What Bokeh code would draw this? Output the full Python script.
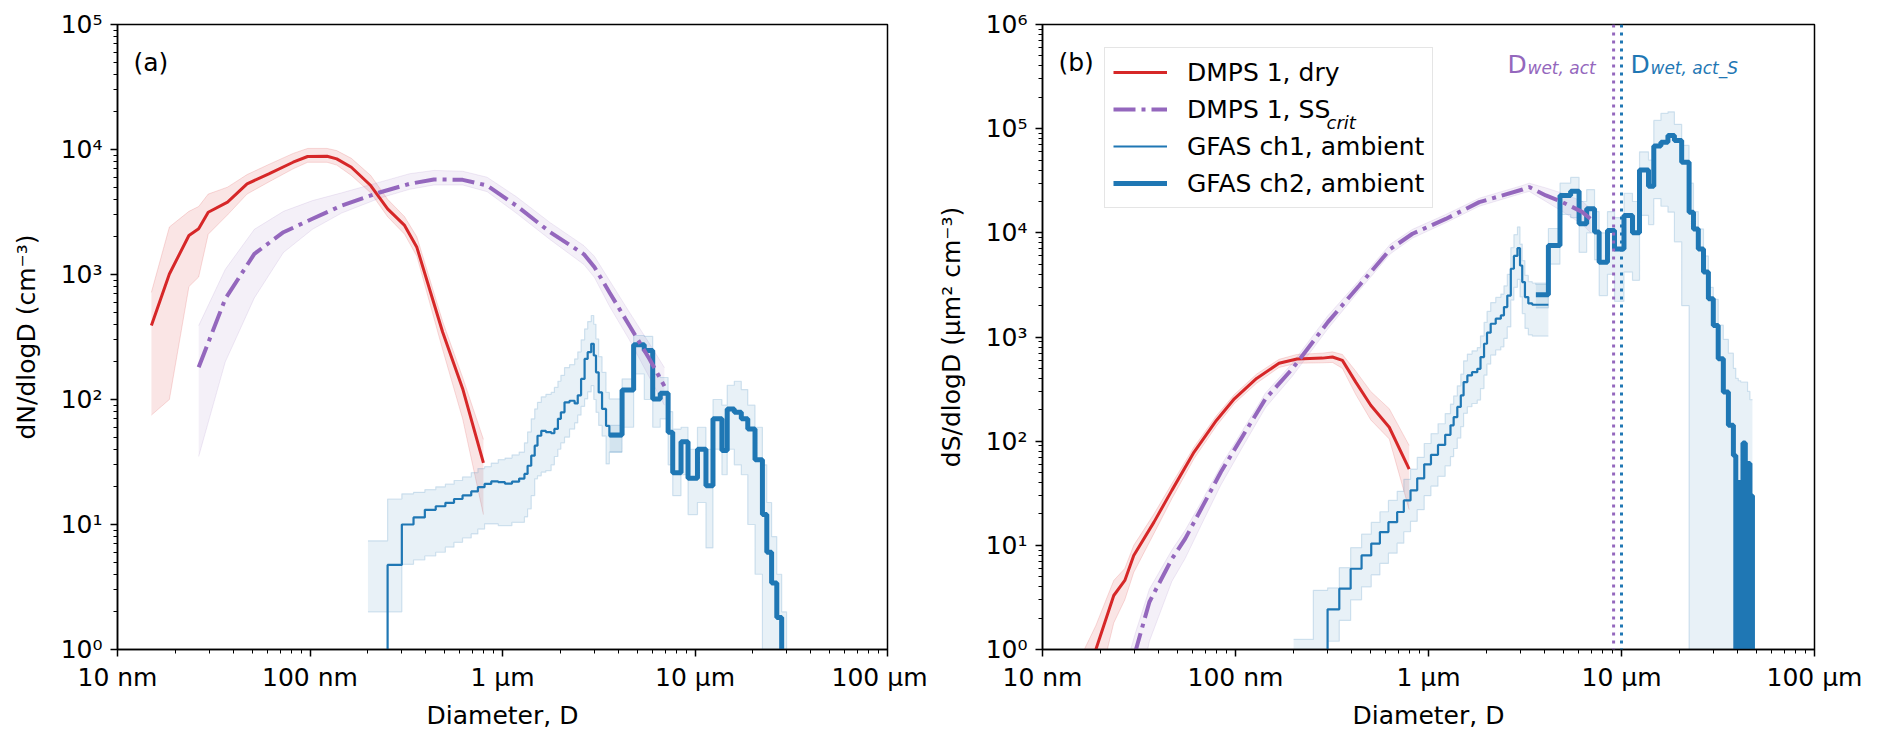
from bokeh.plotting import figure
from bokeh.models import Range1d, FixedTicker, Label, Legend, LegendItem, Span
from bokeh.layouts import row
from bokeh.embed import file_html
from bokeh.resources import INLINE

FONT = "DejaVu Sans"
RED = "#d62728"
PURPLE = "#9467bd"
BLUE = "#1f77b4"

# ---------------- data (diameters: nm for DMPS, um for GFAS) ----------------
# Panel (a): number size distribution dN/dlogD
dry_a_d = [15, 18.6, 23.5, 26.4, 29.6, 37.3, 47.1, 61.1, 81.7, 97.2, 122.7, 137.7, 164, 206.7, 253, 310, 359, 489, 621, 796]
dry_a = [391, 1010, 2050, 2320, 3150, 3790, 5310, 6380, 7910, 8790, 8830, 8410, 7210, 5150, 3350, 2470, 1650, 345, 122, 31.1]
dry_a_lo = [75, 100, 800, 955, 2100, 3000, 4400, 5500, 7000, 7900, 7900, 7500, 6200, 4500, 2900, 2100, 1400, 250, 70, 12]
dry_a_hi = [720, 2400, 3200, 3500, 4400, 5000, 6300, 7600, 9300, 10200, 10200, 9800, 8500, 6200, 4000, 2900, 2000, 420, 150, 48]

ss_a_d = [26.4, 36.3, 51.4, 72.8, 103, 146, 232, 329, 440, 621, 832, 1178, 1769, 2650, 3000, 3590, 4560, 5800, 6935]
ss_a = [181, 638, 1463, 2180, 2790, 3560, 4550, 5310, 5760, 5720, 5150, 3560, 2180, 1450, 1150, 722, 391, 211, 128]
ss_a_lo = [35, 200, 650, 1500, 2300, 3100, 4100, 4800, 5200, 5200, 4600, 3100, 1900, 1200, 950, 560, 300, 150, 90]
ss_a_hi = [390, 1100, 2300, 3200, 3900, 4500, 5500, 6400, 6800, 6700, 6000, 4200, 2600, 1700, 1400, 900, 500, 280, 180]

ch1_edges = [0.2, 0.253, 0.300, 0.345, 0.395, 0.450, 0.505, 0.560, 0.620, 0.688, 0.745, 0.807, 0.874, 0.95,
             1.03, 1.12, 1.22, 1.30, 1.35, 1.41, 1.47, 1.52, 1.59, 1.68, 1.79, 1.86, 1.94, 2.01, 2.10, 2.23,
             2.37, 2.46, 2.56, 2.67, 2.77, 2.89, 2.98, 3.06, 3.16, 3.29, 3.45, 3.59, 4.18]
ch1_a = [0.001, 4.75, 10.0, 11.4, 13.1, 14.0, 14.9, 16.0, 17.1, 18.4, 19.9, 21.1, 22.1, 21.8, 21.2, 22.0, 23.3,
         25.4, 29.5, 35.5, 42.7, 51.3, 56.2, 54.9, 53.7, 58.2, 70, 79, 95, 97.7, 93, 108, 146, 211, 239, 279,
         225, 165, 114, 84, 61.6, 51]
ch1_a_hi = [7.4, 16, 17.6, 18.1, 19, 20, 21, 22.5, 24, 26, 28, 29, 31, 33, 34, 36, 38, 45, 55, 70, 84, 95, 105,
            110, 114, 125, 140, 156, 180, 190, 211, 240, 300, 367, 420, 470, 400, 305, 220, 165, 114, 101]
ch1_a_lo = [2.0, 2.0, 4.8, 5.2, 5.6, 6.0, 6.6, 7.2, 7.8, 8.4, 9.2, 10.1, 10.1, 9.8, 9.8, 10.4, 10.4, 11.5, 13.3,
            17, 23.2, 24.5, 26.2, 27, 30, 35, 40, 45, 50, 58, 65, 75, 88, 101, 115, 129, 100, 79, 62, 51, 30.5, 37.9]

ch2_edges = [3.6, 4.18, 4.8, 5.45, 6.03, 6.6, 7.25, 7.66, 8.46, 9.2, 10.3, 11.4, 12.4, 13.8, 14.7, 16.0, 17.4,
             18.8, 20.5, 22.4, 23.6, 25.0, 26.6, 28.2, 29.9, 31.7, 33.7, 35.8, 38.0, 39.1, 40.3, 41.5, 42.6,
             43.8, 45.0, 46.3, 47.7]
ch2_a = [52, 119, 274, 247, 101, 112, 54.7, 26, 46, 23.4, 40, 20.4, 70, 39, 84, 79, 70, 58, 33, 12, 6, 3.4,
         1.8, 0.9, 0.5, 0.2, 0.1, 0.05, 0.03, 0.001, 0.02, 0.001, 0.04, 0.001, 0.025, 0.012]
ch2_a_hi = [62, 146, 325, 320, 160, 150, 80, 58, 60, 40, 60, 40, 100, 90, 130, 140, 120, 90, 60, 30, 15, 8, 4,
            2, 1, 0.5, 0.3, 0.2, 0.1, 0.05, 0.05, 0.05, 0.05, 0.05, 0.05, 0.05]
ch2_a_lo = [38, 60, 160, 100, 60, 70, 30, 17, 25, 12, 15, 6.5, 40, 25, 40, 30, 25, 10, 4,
            0.001, 0.001, 0.001, 0.001, 0.001, 0.001, 0.001, 0.001, 0.001, 0.001, 0.001, 0.001, 0.001,
            0.001, 0.001, 0.001, 0.001]

# Panel (b): surface size distribution dS/dlogD
dry_b_d = [15, 18.9, 23.4, 26.7, 29.7, 37.8, 46.8, 61, 79.6, 98.6, 128.6, 168, 208, 282, 318, 358, 420, 502, 626, 794]
dry_b = [0.28, 1.0, 3.3, 4.6, 8.0, 16.7, 33.7, 78.5, 158, 255, 400, 560, 615, 627, 643, 596, 369, 221, 136, 54]
dry_b_lo = [0.05, 0.35, 1.8, 3.0, 5.5, 13, 28, 68, 140, 230, 360, 510, 560, 565, 570, 500, 280, 160, 105, 22]
dry_b_hi = [0.7, 1.7, 4.6, 6.0, 10, 20, 39, 88, 175, 280, 440, 610, 680, 700, 720, 680, 470, 300, 205, 91]

ss_b_d = [26.4, 30.5, 35.8, 46.8, 54.9, 67.9, 84, 109.6, 143, 197, 301, 438, 635, 826, 1229, 1831, 3069, 3325,
          4054, 4948, 6281, 6930]
ss_b = [0.4, 1.0, 2.86, 7.4, 11.6, 24.2, 50.6, 114, 255, 495, 1390, 3126, 7000, 9800, 13600, 19700, 26050,
        27500, 22850, 19700, 15800, 13500]
ss_b_lo = [0.05, 0.3, 1.2, 4.5, 7.5, 17, 38, 90, 210, 420, 1200, 2800, 6300, 8900, 12500, 18000, 24000, 25000,
           20000, 16000, 12000, 10000]
ss_b_hi = [0.6, 1.5, 3.8, 9.0, 14, 28, 58, 130, 290, 560, 1600, 3500, 7800, 10800, 15000, 21500, 28500, 30000,
           27000, 24000, 20000, 17000]

ch1_b = [0.001, 0.9, 2.43, 3.84, 5.96, 8.0, 10.4, 13.4, 16.7, 20.9, 27, 33.7, 44, 60, 74, 92, 115, 142, 170,
         213, 275, 369, 428, 460, 495, 641, 861, 1100, 1340, 1500, 1611, 1937, 2500, 4520, 6000, 7130, 4860,
         3365, 2415, 2100, 2040, 2040]
ch1_b_hi = [1.25, 3.7, 3.9, 6.1, 9.5, 12.8, 16.6, 21, 27, 33, 43, 54, 70, 95, 118, 147, 184, 227, 272, 340, 440,
            590, 685, 736, 792, 1025, 1380, 1760, 2140, 2400, 2580, 3100, 4000, 7200, 9600, 11400, 7800, 5400,
            3900, 3400, 3300, 3200]
ch1_b_lo = [0.001, 0.001, 1.2, 1.9, 3.0, 4.0, 5.2, 6.7, 8.4, 10.5, 13.5, 17, 22, 30, 37, 46, 58, 71, 85, 107,
            138, 185, 214, 230, 248, 320, 430, 550, 670, 750, 805, 970, 1250, 2260, 3000, 3570, 2430, 1680,
            1210, 1050, 1020, 1020]

ch2_b = [2540, 7570, 22860, 25100, 12200, 17000, 10170, 5230, 10550, 7010, 14700, 10000, 40000, 28000, 68000,
         74000, 86000, 77000, 47600, 15800, 10900, 7010, 4200, 2330, 1290, 618, 296, 142, 73, 0.001, 40, 0.001,
         96, 0.001, 61, 30]
ch2_b_hi = [3300, 11000, 30000, 34000, 20000, 26000, 16000, 10000, 16000, 14000, 24000, 20000, 60000, 50000,
            120000, 140000, 145000, 110000, 69000, 30000, 16000, 10900, 6000, 3000, 2300, 1300, 950, 700, 500,
            400, 380, 370, 370, 370, 300, 250]
ch2_b_lo = [1900, 5000, 15000, 14000, 6500, 10000, 5500, 2500, 4000, 2200, 4200, 3500, 14700, 12000, 21300,
            18000, 15800, 8200, 2000, 0.001, 0.001, 0.001, 0.001, 0.001, 0.001, 0.001, 0.001, 0.001, 0.001,
            0.001, 0.001, 0.001, 0.001, 0.001, 0.001, 0.001]

dwet_act = 9.1      # um
dwet_act_s = 10.0   # um

x_ticks = [0.01, 0.1, 1, 10, 100]
x_tick_labels = ["10 nm", "100 nm", "1 μm", "10 μm", "100 μm"]
sup = "⁰¹²³⁴⁵⁶"


def style_axes(p, ymax_exp, ylabel):
    minor_x = [d * k for d in x_ticks[:-1] for k in range(2, 10)]
    p.xaxis.ticker = FixedTicker(ticks=x_ticks, minor_ticks=minor_x)
    p.xaxis.major_label_overrides = {t: l for t, l in zip(x_ticks, x_tick_labels)}
    yt = [10.0 ** e for e in range(0, ymax_exp + 1)]
    minor_y = [d * k for d in yt[:-1] for k in range(2, 10)]
    p.yaxis.ticker = FixedTicker(ticks=yt, minor_ticks=minor_y)
    p.yaxis.major_label_overrides = {t: "10" + sup[e] for e, t in enumerate(yt)}
    for ax in (p.xaxis[0], p.yaxis[0]):
        ax.axis_line_width = 1.5
        ax.axis_line_color = "black"
        ax.major_tick_out = 7
        ax.major_tick_in = 0
        ax.minor_tick_out = 4
        ax.minor_tick_in = 0
        ax.major_tick_line_width = 1.5
        ax.minor_tick_line_width = 1
        ax.major_tick_line_color = "black"
        ax.minor_tick_line_color = "black"
        ax.major_label_text_font = FONT
        ax.major_label_text_font_size = "25px"
        ax.major_label_text_color = "black"
        ax.axis_label_text_font = FONT
        ax.axis_label_text_font_size = "25px"
        ax.axis_label_text_font_style = "normal"
        ax.axis_label_text_color = "black"
    p.xaxis.axis_label = "Diameter, D"
    p.xaxis.major_label_standoff = 6
    p.xaxis.axis_label_standoff = 6
    p.yaxis.axis_label = ylabel
    p.yaxis.major_label_standoff = 8
    p.yaxis.axis_label_standoff = 17
    p.grid.visible = False
    p.outline_line_color = "black"
    p.outline_line_width = 1.5
    p.outline_line_alpha = 1.0


def make_fig(width, bl, br, ymax_exp, ylabel):
    p = figure(width=width, height=738, x_axis_type="log", y_axis_type="log",
               x_range=Range1d(0.01, 100), y_range=Range1d(1, 10.0 ** ymax_exp),
               output_backend="svg", toolbar_location=None,
               min_border_left=bl, min_border_right=br, min_border_top=24, min_border_bottom=89)
    style_axes(p, ymax_exp, ylabel)
    p.background_fill_color = "white"
    p.border_fill_color = "white"
    return p


def smooth_band(p, d_nm, lo, hi, color, alpha):
    x = [d / 1000.0 for d in d_nm]
    p.varea(x=x, y1=lo, y2=hi, fill_color=color, fill_alpha=alpha)
    p.line(x, lo, line_color=color, line_alpha=alpha * 1.3, line_width=1)
    p.line(x, hi, line_color=color, line_alpha=alpha * 1.3, line_width=1)


def step_band(p, edges, lo, hi, color, alpha):
    y1 = lo + [lo[-1]]
    y2 = hi + [hi[-1]]
    p.varea_step(x=edges, y1=y1, y2=y2, step_mode="after", fill_color=color, fill_alpha=alpha)
    p.step(edges, y1, mode="after", line_color=color, line_alpha=alpha * 1.8, line_width=1.2)
    p.step(edges, y2, mode="after", line_color=color, line_alpha=alpha * 1.8, line_width=1.2)


def draw_panel(p, dry_d, dry, dry_lo, dry_hi, ss_d, ss, ss_lo, ss_hi, c1, c1lo, c1hi, c2, c2lo, c2hi):
    smooth_band(p, dry_d, dry_lo, dry_hi, RED, 0.12)
    smooth_band(p, ss_d, ss_lo, ss_hi, PURPLE, 0.1)
    step_band(p, ch1_edges, c1lo, c1hi, BLUE, 0.1)
    step_band(p, ch2_edges, c2lo, c2hi, BLUE, 0.1)
    r1 = p.step(ch1_edges, c1 + [c1[-1]], mode="after", line_color=BLUE, line_width=2.2)
    r2 = p.step(ch2_edges, c2 + [0.001], mode="after", line_color=BLUE, line_width=5)
    rd = p.line([d / 1000.0 for d in dry_d], dry, line_color=RED, line_width=3)
    rs = p.line([d / 1000.0 for d in ss_d], ss, line_color=PURPLE, line_width=4,
                line_dash="22 6 4 6")
    return rd, rs, r1, r2


def add_text(p, x, y, text, size="25px", color="black", style="normal", level="annotation"):
    p.add_layout(Label(x=x, y=y, x_units="screen", y_units="screen", text=text,
                       text_font=FONT, text_font_size=size, text_color=color,
                       text_font_style=style, text_baseline="alphabetic", text_align="left",
                       level=level))


# ---------------- panel (a) ----------------
pa = make_fig(927, 117, 40, 5, "dN/dlogD (cm⁻³)")
draw_panel(pa, dry_a_d, dry_a, dry_a_lo, dry_a_hi, ss_a_d, ss_a, ss_a_lo, ss_a_hi,
           ch1_a, ch1_a_lo, ch1_a_hi, ch2_a, ch2_a_lo, ch2_a_hi)
add_text(pa, 16, 587, "(a)")

# ---------------- panel (b) ----------------
pb = make_fig(937, 115, 50, 6, "dS/dlogD (μm² cm⁻³)")
rd, rs, r1, r2 = draw_panel(pb, dry_b_d, dry_b, dry_b_lo, dry_b_hi, ss_b_d, ss_b, ss_b_lo, ss_b_hi,
                            ch1_b, ch1_b_lo, ch1_b_hi, ch2_b, ch2_b_lo, ch2_b_hi)
pb.add_layout(Span(location=dwet_act, dimension="height", line_color=PURPLE,
                   line_width=3, line_dash="3 5"))
pb.add_layout(Span(location=dwet_act_s, dimension="height", line_color=BLUE,
                   line_width=3, line_dash="3 5"))
add_text(pb, 16, 587, "(b)")
add_text(pb, 465, 585, "D", color=PURPLE)
add_text(pb, 485, 582, "wet, act", size="17px", color=PURPLE, style="italic")
add_text(pb, 588, 585, "D", color=BLUE)
add_text(pb, 608, 582, "wet, act_S", size="17px", color=BLUE, style="italic")

legend = Legend(items=[LegendItem(label="DMPS 1, dry", renderers=[rd]),
                       LegendItem(label="DMPS 1, SS", renderers=[rs]),
                       LegendItem(label="GFAS ch1, ambient", renderers=[r1]),
                       LegendItem(label="GFAS ch2, ambient", renderers=[r2])],
                location=(62, 441))
legend.label_text_font = FONT
legend.label_text_font_size = "25px"
legend.label_text_color = "black"
legend.glyph_width = 54
legend.glyph_height = 32
legend.spacing = 5
legend.padding = 8
legend.margin = 0
legend.label_standoff = 20
legend.border_line_color = "#cccccc"
legend.border_line_width = 1.5
legend.background_fill_alpha = 0.0
legend.level = "annotation"
pb.add_layout(legend, "center")
add_text(pb, 284, 527, "crit", size="18px", style="italic", level="overlay")

layout = row(pa, pb)
open("out.html", "w").write(file_html(layout, INLINE))
